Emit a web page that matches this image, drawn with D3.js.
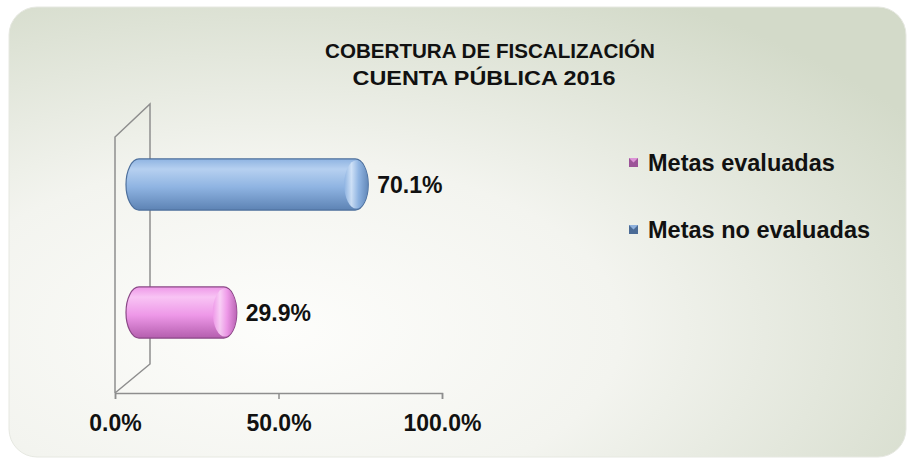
<!DOCTYPE html>
<html>
<head>
<meta charset="utf-8">
<script src="https://cdn.jsdelivr.net/npm/d3@7"></script>
<style>
  body { margin: 0; background: #ffffff; }
  svg { display: block; }
</style>
</head>
<body>
<svg id="chart"></svg>
<script>
var w = 912;
var h = 462;

// data
var categories = ["Metas evaluadas", "Metas no evaluadas"];
var values = [29.9, 70.1];
var tickValues = [0, 50, 100];
var titleLines = ["COBERTURA DE FISCALIZACIÓN", "CUENTA PÚBLICA 2016"];

var barColors = {
    "Metas evaluadas": { top: "#f8c4f4", mid: "#ee98e8", bottom: "#b45eae", edge: "#8a4786", cap: "#f9d2f6", dark: "#9c5498", light: "#dc94d6" },
    "Metas no evaluadas": { top: "#b6d0f0", mid: "#8fb4e2", bottom: "#5d83b4", edge: "#4c6f9c", cap: "#d3e4f8", dark: "#4b6b96", light: "#8fb1dc" }
};

var svg = d3.select("#chart")
    .attr("width", w)
    .attr("height", h);

var defs = svg.append("defs");

// card background
var bg = defs.append("radialGradient")
    .attr("id", "bgGrad")
    .attr("cx", "0.3").attr("cy", "0.72").attr("r", "0.85");
bg.append("stop").attr("offset", "0").attr("stop-color", "#fdfdfb");
bg.append("stop").attr("offset", "0.45").attr("stop-color", "#f3f4ef");
bg.append("stop").attr("offset", "1").attr("stop-color", "#d3dac9");

svg.append("rect")
    .attr("x", 9).attr("y", 7)
    .attr("width", 897).attr("height", 450)
    .attr("rx", 28)
    .style("fill", "url(#bgGrad)")
    .style("stroke", "#e6e8e1")
    .style("stroke-width", 1);

// title (narrow bold face, squeezed to the width seen in the picture)
var titleWidths = [330, 263];
svg.append("g")
    .selectAll("text")
    .data(titleLines)
    .enter()
    .append("text")
    .attr("x", function (d, i) { return i === 0 ? 490 : 484; })
    .attr("y", function (d, i) { return 58 + i * 27; })
    .attr("text-anchor", "middle")
    .attr("textLength", function (d, i) { return titleWidths[i]; })
    .attr("lengthAdjust", "spacingAndGlyphs")
    .style("font-family", "'Liberation Sans Narrow', 'Arial Narrow', 'Liberation Sans', sans-serif")
    .style("font-weight", "bold")
    .style("font-size", "21px")
    .style("fill", "#111")
    .text(function (d) { return d; });

// 3d depth of the plot box
var depthX = 35;
var depthY = -33;

var x = d3.scaleLinear()
    .domain([0, 100])
    .range([115, 442]);

var y = d3.scaleBand()
    .domain(categories.slice().reverse())
    .range([137, 393])
    .paddingInner(0.6)
    .paddingOuter(0.3);

var axisColor = "#8e8e8e";
var walls = svg.append("g")
    .style("stroke", axisColor)
    .style("stroke-width", 1.5)
    .style("fill", "none");

// back wall and its front edge
walls.append("path")
    .attr("d", "M" + x(0) + "," + y.range()[1] +
        " L" + x(0) + "," + y.range()[0] +
        " L" + (x(0) + depthX) + "," + (y.range()[0] + depthY) +
        " L" + (x(0) + depthX) + "," + (y.range()[1] + depthY + 4) +
        " L" + x(0) + "," + y.range()[1]);

// floor axis
var xAxis = d3.axisBottom(x)
    .tickValues(tickValues)
    .tickSize(6)
    .tickFormat(function (d) { return d3.format(".1f")(d) + "%"; });

var axisG = svg.append("g")
    .attr("transform", "translate(0," + y.range()[1] + ")")
    .call(xAxis);
axisG.select(".domain").style("stroke", axisColor).style("stroke-width", 1.5);
axisG.selectAll(".tick line").style("stroke", axisColor).style("stroke-width", 1.5);
axisG.selectAll(".tick text")
    .attr("y", 38)
    .attr("dy", 0)
    .style("font-family", "'Liberation Sans', Arial, sans-serif")
    .style("font-weight", "bold")
    .style("font-size", "23px")
    .style("fill", "#111");

// cylinder bars, drawn at mid depth
var bars = svg.append("g")
    .attr("transform", "translate(" + depthX / 2 + "," + depthY / 2 + ")");

var data = categories.map(function (c, i) { return { name: c, value: values[i] }; });

data.forEach(function (d, i) {
    var c = barColors[d.name];
    var g = defs.append("linearGradient")
        .attr("id", "barGrad" + i)
        .attr("x1", 0).attr("y1", 0).attr("x2", 0).attr("y2", 1);
    g.append("stop").attr("offset", "0").attr("stop-color", c.mid);
    g.append("stop").attr("offset", "0.2").attr("stop-color", c.top);
    g.append("stop").attr("offset", "0.55").attr("stop-color", c.mid);
    g.append("stop").attr("offset", "1").attr("stop-color", c.bottom);

    var cg = defs.append("linearGradient")
        .attr("id", "capGrad" + i)
        .attr("x1", 0).attr("y1", 0).attr("x2", 1).attr("y2", 0);
    cg.append("stop").attr("offset", "0").attr("stop-color", c.mid);
    cg.append("stop").attr("offset", "0.3").attr("stop-color", c.cap);
    cg.append("stop").attr("offset", "0.6").attr("stop-color", c.mid);
    cg.append("stop").attr("offset", "1").attr("stop-color", c.bottom);
});

var barH = y.bandwidth();
var capR = 13;

var barG = bars.selectAll("g.bar")
    .data(data)
    .enter()
    .append("g")
    .attr("class", "bar");

barG.append("rect")
    .attr("x", function (d) { return x(0) - capR / 2; })
    .attr("y", function (d) { return y(d.name); })
    .attr("width", function (d) { return x(d.value) - x(0) + capR; })
    .attr("height", barH)
    .attr("rx", capR)
    .attr("ry", barH / 2)
    .style("fill", function (d, i) { return "url(#barGrad" + i + ")"; })
    .style("stroke", function (d) { return barColors[d.name].edge; })
    .style("stroke-width", 1.2);

// end cap
barG.append("ellipse")
    .attr("cx", function (d) { return x(d.value) - capR / 2 + 1; })
    .attr("cy", function (d) { return y(d.name) + barH / 2; })
    .attr("rx", capR - 1)
    .attr("ry", barH / 2 - 1.5)
    .style("fill", function (d, i) { return "url(#capGrad" + i + ")"; })
    .style("opacity", 0.9);

// value labels
svg.append("g")
    .selectAll("text")
    .data(data)
    .enter()
    .append("text")
    .attr("x", function (d) { return x(d.value) + depthX / 2 + capR / 2 + 9; })
    .attr("y", function (d) { return y(d.name) + barH / 2 + depthY / 2 + 8; })
    .style("font-family", "'Liberation Sans', Arial, sans-serif")
    .style("font-weight", "bold")
    .style("font-size", "23px")
    .style("fill", "#111")
    .text(function (d) { return d3.format(".1f")(d.value) + "%"; });

// legend
var legend = svg.append("g")
    .attr("transform", "translate(629,0)");

var legY = d3.scalePoint()
    .domain(categories)
    .range([171, 238]);

var item = legend.selectAll("g")
    .data(categories)
    .enter()
    .append("g")
    .attr("transform", function (d) { return "translate(0," + legY(d) + ")"; });

item.append("rect")
    .attr("x", 0).attr("y", -13)
    .attr("width", 9).attr("height", 9)
    .style("fill", function (d) { return barColors[d].light; });
item.append("path")
    .attr("d", "M0,-13 L4.5,-8.5 L9,-13 L9,-4 L0,-4 Z")
    .style("fill", function (d) { return barColors[d].dark; });

item.append("text")
    .attr("x", 19)
    .attr("y", 0)
    .style("font-family", "'Liberation Sans', Arial, sans-serif")
    .style("font-weight", "bold")
    .style("font-size", "23.5px")
    .style("fill", "#111")
    .text(function (d) { return d; });
</script>
</body>
</html>
